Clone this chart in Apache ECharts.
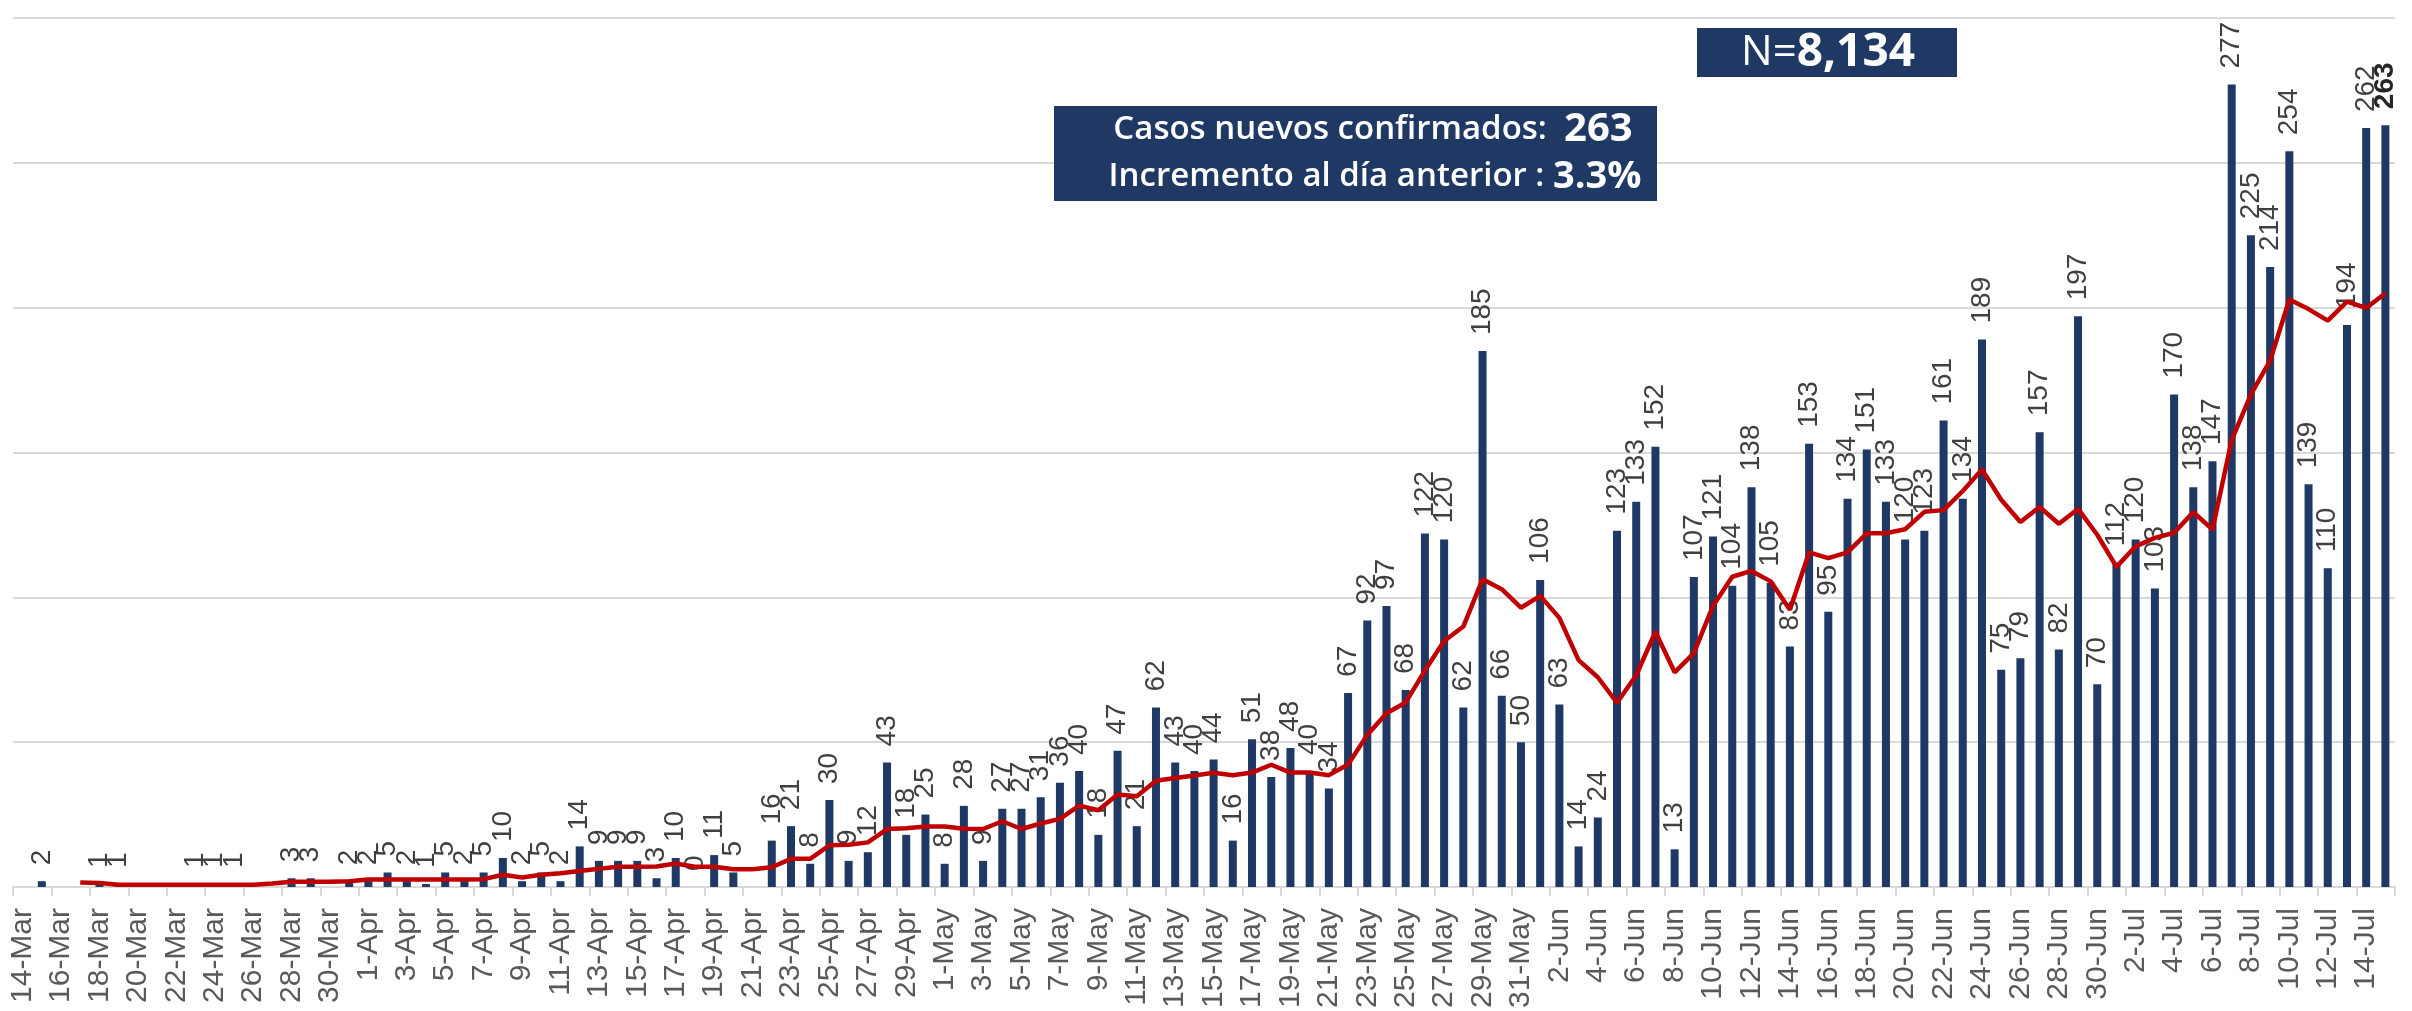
<!DOCTYPE html>
<html>
<head>
<meta charset="utf-8">
<script src="https://cdn.jsdelivr.net/npm/echarts@6/dist/echarts.min.js"></script>
<style>
html,body{margin:0;padding:0;background:#fff;}
#chart{width:2412px;height:1011px;}
</style>
</head>
<body>
<div id="chart"></div>
<script>
// Category ranges (month, first day, last day)
const monthRanges = [['Mar', 14, 31], ['Apr', 1, 30], ['May', 1, 31], ['Jun', 1, 30], ['Jul', 1, 15]];
const categories = [];
monthRanges.forEach(function (m) { for (let d = m[1]; d <= m[2]; d++) categories.push(d + '-' + m[0]); });

// Daily new confirmed cases (bars), 14-Mar .. 15-Jul
const casosNuevos = [
  null, 2, null, null, 1, 1, null, null, null, 1, 1, 1, null, null, 3, 3, null, 2,
  2, 5, 2, 1, 5, 2, 5, 10, 2, 5, 2, 14, 9, 9, 9, 3, 10, 0, 11, 5, null, 16, 21, 8, 30, 9, 12, 43, 18, 25,
  8, 28, 9, 27, 27, 31, 36, 40, 18, 47, 21, 62, 43, 40, 44, 16, 51, 38, 48, 40, 34, 67, 92, 97, 68, 122, 120, 62, 185, 66, 50,
  106, 63, 14, 24, 123, 133, 152, 13, 107, 121, 104, 138, 105, 83, 153, 95, 134, 151, 133, 120, 123, 161, 134, 189, 75, 79, 157, 82, 197, 70,
  112, 120, 103, 170, 138, 147, 277, 225, 214, 254, 139, 110, 194, 262, 263
];

// Moving average line
const promedioMovil = [
  null, null, null, 1.5, 1.4, 0.8, 0.8, 0.8, 0.8, 0.8, 0.8, 0.8, 0.8, 1.2, 1.8, 1.8, 1.8, 2.0,
  2.6, 2.6, 2.6, 2.6, 2.6, 2.6, 2.7, 4.2, 3.3, 4.2, 4.7, 5.5, 6.3, 7.0, 7.0, 7.1, 8.1, 7.0, 7.0, 6.1, 6.1, 6.8, 9.7, 9.7, 14.4, 14.6, 15.4, 20.0, 20.3, 20.9,
  20.9, 20.1, 20.0, 22.7, 20.0, 21.9, 23.5, 28.1, 26.5, 31.9, 31.3, 36.7, 37.6, 38.5, 39.4, 38.6, 39.5, 42.2, 39.5, 39.5, 38.6, 42.3, 52.5, 60.0, 63.7, 74.7, 84.9, 89.9, 106.2, 102.8, 96.4,
  100.5, 92.9, 78.3, 72.4, 63.6, 73.1, 88.1, 74.1, 80.7, 97.1, 107.1, 109.1, 105.5, 95.7, 115.5, 113.5, 115.5, 122.1, 122.1, 123.5, 129.5, 130.1, 136.7, 144.1, 133.7, 126.0, 131.2, 125.4, 130.5, 121.6,
  110.5, 117.6, 120.5, 122.3, 129.4, 123.4, 154.3, 170.1, 181.7, 202.8, 199.5, 195.5, 202.1, 199.9, 205.0
];

// Annotation texts
const totalN = '8,134';
const ultimoCaso = '263';
const incremento = '3.3%';

const labelFont = "'Liberation Sans', Arial, sans-serif";
const boxFont = "'Open Sans', 'Noto Sans', sans-serif";
const navy = '#1F3864';

const barData = casosNuevos.map(function (v, i) {
  if (i === casosNuevos.length - 1) {
    return { value: v, label: { fontWeight: 'bold', color: '#262626' } };
  }
  return v;
});

const chart = echarts.init(document.getElementById('chart'), null, { renderer: 'canvas' });
chart.setOption({
  animation: false,
  backgroundColor: '#ffffff',
  grid: { left: 13, right: 17, top: 18, bottom: 124, containLabel: false },
  xAxis: {
    type: 'category',
    data: categories,
    boundaryGap: true,
    axisLine: { show: true, lineStyle: { color: '#D9D9D9', width: 2 } },
    axisTick: { show: true, interval: 1, length: 9, lineStyle: { color: '#D9D9D9', width: 2 } },
    axisLabel: {
      interval: 1, rotate: 90, margin: 21,
      fontFamily: labelFont, fontSize: 30, color: '#595959'
    },
    splitLine: { show: false }
  },
  yAxis: {
    type: 'value', min: 0, max: 300, interval: 50,
    axisLabel: { show: false }, axisLine: { show: false }, axisTick: { show: false },
    splitLine: { show: true, lineStyle: { color: '#D9D9D9', width: 2 } }
  },
  series: [
    {
      type: 'bar',
      data: barData,
      barWidth: 8,
      itemStyle: { color: '#203864' },
      label: {
        show: true, position: 'top', rotate: 90, align: 'left', verticalAlign: 'middle',
        distance: 16, fontFamily: labelFont, fontSize: 28, color: '#404040',
        formatter: function (p) { return p.value == null ? '' : String(p.value); }
      },
      z: 2
    },
    {
      type: 'line',
      data: promedioMovil,
      showSymbol: false,
      symbol: 'none',
      smooth: false,
      lineStyle: { color: '#C00000', width: 4.5 },
      z: 3
    }
  ],
  graphic: [
    { type: 'rect', shape: { x: 1054, y: 106, width: 603, height: 95 }, style: { fill: navy }, z: 10 },
    {
      type: 'text', x: 1373, y: 130, z: 11,
      style: {
        text: '{a|Casos nuevos confirmados:  }{b|' + ultimoCaso + '}',
        align: 'center', verticalAlign: 'middle',
        rich: {
          a: { fontFamily: boxFont, fontSize: 33, fontWeight: 600, fill: '#ffffff' },
          b: { fontFamily: boxFont, fontSize: 40, fontWeight: 700, fill: '#ffffff' }
        }
      }
    },
    {
      type: 'text', x: 1375, y: 177, z: 11,
      style: {
        text: '{a|Incremento al día anterior : }{b|' + incremento + '}',
        align: 'center', verticalAlign: 'middle',
        rich: {
          a: { fontFamily: boxFont, fontSize: 33, fontWeight: 600, fill: '#ffffff' },
          b: { fontFamily: boxFont, fontSize: 38, fontWeight: 700, fill: '#ffffff' }
        }
      }
    },
    { type: 'rect', shape: { x: 1697, y: 28, width: 260, height: 49 }, style: { fill: navy }, z: 10 },
    {
      type: 'text', x: 1828, y: 53, z: 11,
      style: {
        text: '{a|N=}{b|' + totalN + '}',
        align: 'center', verticalAlign: 'middle',
        rich: {
          a: { fontFamily: boxFont, fontSize: 42, fontWeight: 400, fill: '#ffffff' },
          b: { fontFamily: boxFont, fontSize: 46, fontWeight: 700, fill: '#ffffff' }
        }
      }
    }
  ]
});
</script>
</body>
</html>
